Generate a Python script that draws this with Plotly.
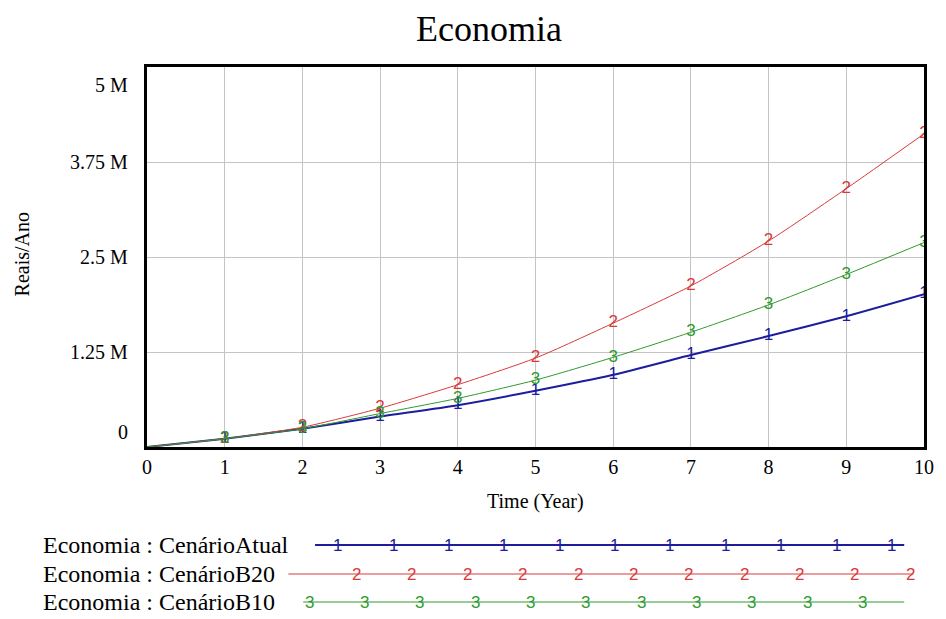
import plotly.graph_objects as go

# ---- data (values in Reais/Ano) ----
time = [0, 1, 2, 3, 4, 5, 6, 7, 8, 9, 10]
atual = [0, 0.11e6, 0.24e6, 0.40e6, 0.55e6, 0.74e6, 0.95e6, 1.21e6, 1.46e6, 1.72e6, 2.01e6]
b20 = [0, 0.11e6, 0.26e6, 0.51e6, 0.82e6, 1.17e6, 1.63e6, 2.12e6, 2.71e6, 3.40e6, 4.12e6]
b10 = [0, 0.11e6, 0.24e6, 0.44e6, 0.64e6, 0.88e6, 1.18e6, 1.51e6, 1.87e6, 2.27e6, 2.69e6]

series_names = ["Economia : CenárioAtual", "Economia : CenárioB20", "Economia : CenárioB10"]
series_marks = ["1", "2", "3"]
y_tick_vals = [0, 1.25e6, 2.5e6, 3.75e6, 5e6]
y_tick_text = ["0", "1.25 M", "2.5 M", "3.75 M", "5 M"]
x_tick_vals = list(range(0, 11))

colors = ["#1c1c9c", "#d83a3a", "#2e9a2e"]
widths = [2, 1, 1]
all_series = [atual, b20, b10]

W, H = 946, 619
ML, MR, MT, MB = 147, 13, 67, 172
PW, PH = W - ML - MR, H - MT - MB


def px_x(px):
    return (px - ML) / PW


def px_y(py):
    return (H - MB - py) / PH


serif = "Liberation Serif"
sans = "Liberation Sans"

fig = go.Figure()
for vals, col, w, mk, nm in zip(all_series, colors, widths, series_marks, series_names):
    fig.add_trace(go.Scatter(
        x=time, y=vals, mode="lines", name=nm,
        line=dict(color=col, width=w, shape="spline", smoothing=0.6),
        showlegend=False, hoverinfo="skip"))
    fig.add_trace(go.Scatter(
        x=time[1:], y=vals[1:], mode="text", text=[mk] * (len(time) - 1),
        textposition="middle center",
        textfont=dict(family=sans, size=17, color=col),
        showlegend=False, hoverinfo="skip"))

annotations = []
shapes = []
# y tick labels (Vensim style: end labels pulled inside)
for v, t in zip(y_tick_vals, y_tick_text):
    ys = 0
    if v == y_tick_vals[-1]:
        ys = -18
    elif v == y_tick_vals[0]:
        ys = 15
    annotations.append(dict(x=0, xref="paper", y=v, yref="y", text=t, showarrow=False,
                            xanchor="right", yanchor="middle", xshift=-17, yshift=ys,
                            font=dict(family=serif, size=20, color="black")))
# y axis title
annotations.append(dict(x=px_x(21), xref="paper", y=px_y(254), yref="paper", text="Reais/Ano",
                        showarrow=False, textangle=-90, xanchor="center", yanchor="middle",
                        font=dict(family=serif, size=20, color="black")))
# x axis title
annotations.append(dict(x=0.5, xref="paper", y=px_y(501), yref="paper", text="Time (Year)",
                        showarrow=False, xanchor="center", yanchor="middle",
                        font=dict(family=serif, size=20, color="black")))

# bottom legend
rows_y = [545, 574, 602]
line_ranges = [(317, 913), (290, 922), (305, 913)]
mark_start = [340, 359, 311]
mark_step = 56
for i in range(3):
    yy = px_y(rows_y[i])
    annotations.append(dict(x=px_x(40), xref="paper", y=yy, yref="paper", text=series_names[i],
                            showarrow=False, xanchor="left", yanchor="middle",
                            font=dict(family=serif, size=24, color="black")))
    x0, x1 = line_ranges[i]
    shapes.append(dict(type="line", xref="paper", yref="paper", x0=px_x(x0), x1=px_x(x1),
                       y0=yy, y1=yy, line=dict(color=colors[i], width=widths[i])))
    for k in range(11):
        annotations.append(dict(x=px_x(mark_start[i] + k * mark_step), xref="paper", y=yy, yref="paper",
                                text=series_marks[i], showarrow=False, xanchor="center", yanchor="middle",
                                font=dict(family=sans, size=17, color=colors[i])))

fig.update_layout(
    width=W, height=H,
    margin=dict(l=ML, r=MR, t=MT, b=MB, pad=0),
    paper_bgcolor="white", plot_bgcolor="white",
    title=dict(text="Economia", x=489 / W, xanchor="center", y=1 - 28 / H, yanchor="middle",
               font=dict(family=serif, size=36, color="black")),
    xaxis=dict(range=[0, 10], tickvals=x_tick_vals, ticktext=[str(v) for v in x_tick_vals],
               showgrid=True, gridcolor="#c4c4c4", gridwidth=1, zeroline=False,
               showline=True, linecolor="black", linewidth=3, mirror=True, ticks="",
               tickfont=dict(family=serif, size=20, color="black"), fixedrange=True),
    yaxis=dict(range=[0, 5e6], tickvals=y_tick_vals, showticklabels=False,
               showgrid=True, gridcolor="#c4c4c4", gridwidth=1, zeroline=False,
               showline=True, linecolor="black", linewidth=3, mirror=True, ticks="",
               fixedrange=True),
    annotations=annotations,
    shapes=shapes,
)

fig.write_html("out.html", config={"displayModeBar": False},
               post_script="document.body.style.margin='0';document.body.style.overflow='hidden';")
